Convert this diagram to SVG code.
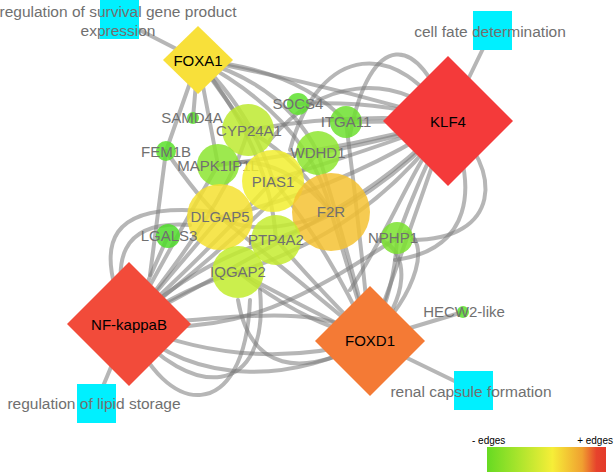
<svg xmlns="http://www.w3.org/2000/svg" width="615" height="473" viewBox="0 0 615 473">
<defs>
<linearGradient id="lg" x1="0" y1="0" x2="1" y2="0">
<stop offset="0" stop-color="#66DA22"/>
<stop offset="0.25" stop-color="#A6E42C"/>
<stop offset="0.55" stop-color="#F6EE38"/>
<stop offset="0.8" stop-color="#F0A030"/>
<stop offset="0.92" stop-color="#E6432C"/>
<stop offset="1" stop-color="#E43A2A"/>
</linearGradient>
<style>
.e{fill:none;stroke:#7a7a7a;stroke-width:4;stroke-opacity:0.55;stroke-linecap:round}
.g{opacity:0.85}
.lb{font-family:"Liberation Sans",Arial,sans-serif;font-size:15px;fill:#707070;text-anchor:middle}
.tf{font-family:"Liberation Sans",Arial,sans-serif;font-size:15px;fill:#000;text-anchor:middle}
.go{font-family:"Liberation Sans",Arial,sans-serif;font-size:15.5px;fill:#707070;text-anchor:middle}
.sq{fill:#00F0FF}
.lt{font-family:"Liberation Sans",Arial,sans-serif;font-size:10px;fill:#000}
</style>
</defs>
<rect width="615" height="473" fill="#fff"/>
<g id="connectors">
<!-- GO terms -->
<path class="e" d="M120,20 L198,60"/>
<path class="e" d="M492,30 L448,121"/>
<path class="e" d="M96,403 L129,324"/>
<path class="e" d="M473,390 L370,340"/>
<path class="e" d="M463,312 L370,340"/>
<!-- FOXA1 -->
<path class="e" d="M198,60 L193,118"/>
<path class="e" d="M198,60 L166,151"/>
<path class="e" d="M166,151 L150,275"/>
<path class="e" d="M198,60 L218,165"/>
<path class="e" d="M198,60 L248,130"/>
<path class="e" d="M198,60 Q250,110 273,180"/>
<path class="e" d="M198,60 Q285,85 318,153"/>
<path class="e" d="M198,60 Q300,70 346,122"/>
<path class="e" d="M198,60 Q330,85 448,121"/>
<path class="e" d="M198,60 Q310,120 331,212"/>
<path class="e" d="M198,60 Q270,150 276,239"/>
<!-- KLF4 -->
<path class="e" d="M346,122 L448,121"/>
<path class="e" d="M298,104 Q380,100 448,121"/>
<path class="e" d="M318,153 Q390,140 448,121"/>
<path class="e" d="M331,212 Q395,175 448,121"/>
<path class="e" d="M273,180 Q370,150 448,121"/>
<path class="e" d="M248,130 Q350,112 448,121"/>
<path class="e" d="M218,165 Q340,150 448,121"/>
<path class="e" d="M220,217 Q340,190 448,121"/>
<path class="e" d="M276,239 Q380,200 448,121"/>
<path class="e" d="M238,272 Q370,230 448,121"/>
<path class="e" d="M397,238 Q420,175 448,121"/>
<path class="e" d="M448,121 C505,170 500,240 412,240"/>
<path class="e" d="M448,121 C480,190 470,250 395,260"/>
<path class="e" d="M448,121 C420,30 370,30 350,135"/>
<path class="e" d="M448,121 C400,40 320,40 290,150"/>
<path class="e" d="M448,121 C390,70 320,80 270,140"/>
<path class="e" d="M448,121 C410,170 390,230 350,290"/>
<path class="e" d="M448,121 C420,200 400,260 370,340"/>
<!-- NF-kappaB -->
<path class="e" d="M129,324 L168,236"/>
<path class="e" d="M129,324 L220,217"/>
<path class="e" d="M129,324 Q180,230 218,165"/>
<path class="e" d="M129,324 Q215,245 273,180"/>
<path class="e" d="M129,324 Q190,285 238,272"/>
<path class="e" d="M129,324 Q200,260 276,239"/>
<path class="e" d="M129,324 Q240,265 331,212"/>
<path class="e" d="M129,324 Q250,230 318,153"/>
<path class="e" d="M129,324 Q230,200 248,130"/>
<path class="e" d="M129,324 Q250,375 370,340"/>
<path class="e" d="M129,324 C250,340 330,280 397,238"/>
<path class="e" d="M129,324 C90,240 110,200 215,212"/>
<path class="e" d="M129,324 C110,260 120,220 190,225"/>
<path class="e" d="M129,324 C165,420 245,425 250,300"/>
<path class="e" d="M129,324 C190,400 270,400 260,290"/>
<path class="e" d="M129,324 C200,390 300,380 370,340"/>
<path class="e" d="M129,324 C230,320 320,300 370,340"/>
<!-- FOXD1 -->
<path class="e" d="M370,340 L331,212"/>
<path class="e" d="M370,340 Q395,290 397,238"/>
<path class="e" d="M370,340 Q310,280 276,239"/>
<path class="e" d="M370,340 Q290,300 238,272"/>
<path class="e" d="M370,340 Q280,265 220,217"/>
<path class="e" d="M370,340 Q330,250 273,180"/>
<path class="e" d="M370,340 Q345,240 318,153"/>
<path class="e" d="M370,340 Q360,230 346,122"/>
<path class="e" d="M370,340 C420,290 430,240 405,232"/>
<path class="e" d="M370,340 C410,300 410,250 380,240"/>
<path class="e" d="M370,340 C300,380 250,370 238,300"/>
<path class="e" d="M370,340 C340,330 300,320 238,272"/>
<!-- gene-gene -->
<path class="e" d="M220,217 Q260,240 331,212"/>
<path class="e" d="M218,165 Q280,150 331,212"/>
<path class="e" d="M248,130 Q300,160 331,212"/>
<path class="e" d="M166,151 Q200,200 220,217"/>
</g>
<g id="survival"><rect class="sq" x="100" y="0" width="39" height="39"/><text class="go" x="118" y="17">regulation of survival gene product</text><text class="go" x="118" y="36">expression</text></g>
<g id="cellfate"><rect class="sq" x="473" y="11" width="39" height="39"/><text class="go" x="490" y="37">cell fate determination</text></g>
<g id="lipid"><rect class="sq" x="77" y="384" width="39" height="39"/><text class="go" x="94" y="409">regulation of lipid storage</text></g>
<g id="renal"><rect class="sq" x="454" y="371" width="39" height="39"/><text class="go" x="471" y="397">renal capsule formation</text></g>
<g id="SAMD4A"><circle class="g" cx="193" cy="118" r="6" fill="#5BE02D"/><text class="lb" x="192" y="123">SAMD4A</text></g>
<g id="FEM1B"><circle class="g" cx="166" cy="151" r="10" fill="#5BE02D"/><text class="lb" x="166" y="157">FEM1B</text></g>
<g id="SOCS4"><circle class="g" cx="298" cy="104" r="11" fill="#5EE02E"/><text class="lb" x="298" y="109">SOCS4</text></g>
<g id="ITGA11"><circle class="g" cx="346" cy="122" r="16" fill="#6DE02F"/><text class="lb" x="346" y="127">ITGA11</text></g>
<g id="CYP24A1"><circle class="g" cx="248" cy="130" r="26" fill="#BDEA30"/><text class="lb" x="249" y="136">CYP24A1</text></g>
<g id="WDHD1"><circle class="g" cx="318" cy="153" r="22" fill="#8EE630"/><text class="lb" x="318" y="158">WDHD1</text></g>
<g id="MAPK1IP1L"><circle class="g" cx="218" cy="165" r="21" fill="#8CE530"/><text class="lb" x="218" y="171">MAPK1IP1L</text></g>
<g id="PIAS1"><circle class="g" cx="273" cy="181" r="31" fill="#F2EE30"/><text class="lb" x="273" y="187">PIAS1</text></g>
<g id="DLGAP5"><circle class="g" cx="220" cy="217" r="33" fill="#F5E030"/><text class="lb" x="220" y="222">DLGAP5</text></g>
<g id="F2R"><circle class="g" cx="331" cy="212" r="39" fill="#F5C232"/><text class="lb" x="331" y="217">F2R</text></g>
<g id="PTP4A2"><circle class="g" cx="276" cy="240" r="25" fill="#C5EC30"/><text class="lb" x="276" y="245">PTP4A2</text></g>
<g id="LGALS3"><circle class="g" cx="168" cy="236" r="12" fill="#4FDC2A"/><text class="lb" x="169" y="241">LGALS3</text></g>
<g id="IQGAP2"><circle class="g" cx="238" cy="272" r="26" fill="#C2EC2E"/><text class="lb" x="238" y="277">IQGAP2</text></g>
<g id="NPHP1"><circle class="g" cx="397" cy="238" r="16" fill="#7BE22F"/><text class="lb" x="393" y="243">NPHP1</text></g>
<g id="HECW2-like"><circle class="g" cx="463" cy="312" r="6" fill="#5BE02D"/><text class="lb" x="464" y="317">HECW2-like</text></g>
<g id="FOXA1"><polygon points="198,26 233,60 198,94 163,60" fill="#F8E03A"/><text class="tf" x="198" y="66">FOXA1</text></g>
<g id="KLF4"><polygon points="448,56 513,121 448,186 383,121" fill="#F43A3A"/><text class="tf" x="448" y="127">KLF4</text></g>
<g id="NF-kappaB"><polygon points="129,262 191,324 129,386 67,324" fill="#F24B3A"/><text class="tf" x="129" y="330">NF-kappaB</text></g>
<g id="FOXD1"><polygon points="370,286 425,341 370,396 315,341" fill="#F47A35"/><text class="tf" x="370" y="346">FOXD1</text></g>
<g id="legend"><rect x="487" y="447" width="119" height="25" fill="url(#lg)"/><text class="lt" x="472" y="444">- edges</text><text class="lt" x="613" y="444" text-anchor="end">+ edges</text></g>
</svg>
